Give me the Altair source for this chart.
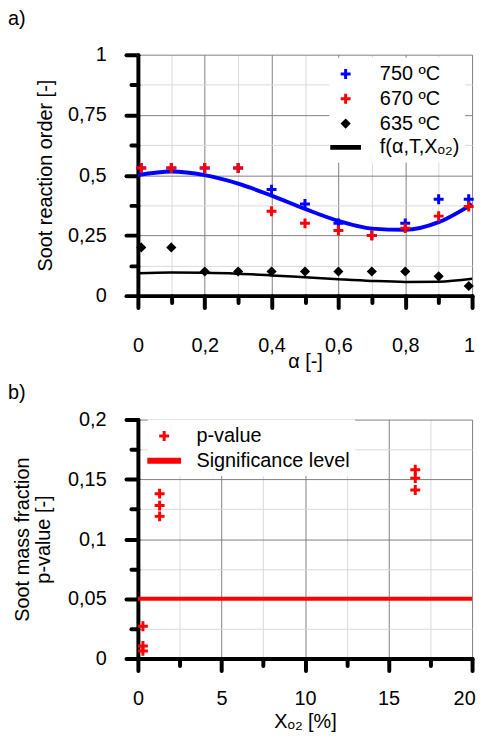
import altair as alt
import pandas as pd

FONT = "Liberation Sans"

# ---------------- panel a data ----------------
alpha = [0.01, 0.1, 0.2, 0.3, 0.4, 0.5, 0.6, 0.7, 0.8, 0.9, 0.99]
order_750 = [0.53, 0.53, 0.53, 0.53, 0.44, 0.38, 0.30, 0.25, 0.30, 0.40, 0.40]
order_670 = [0.53, 0.53, 0.53, 0.53, 0.35, 0.30, 0.27, 0.25, 0.28, 0.33, 0.37]
order_635 = [0.20, 0.20, 0.10, 0.10, 0.10, 0.10, 0.10, 0.10, 0.10, 0.08, 0.04]

fit_alpha = [0.0, 0.1, 0.2, 0.3, 0.4, 0.5, 0.6, 0.7, 0.8, 0.9, 1.0]
fit_high = [0.50, 0.515, 0.50, 0.465, 0.415, 0.36, 0.31, 0.278, 0.273, 0.305, 0.38]
fit_635 = [0.093, 0.096, 0.095, 0.091, 0.084, 0.076, 0.068, 0.061, 0.057, 0.058, 0.07]

labels_a = ["750 ºC", "670 ºC", "635 ºC", "f(α,T,Xₒ₂)"]
colors_a = ["#0000ff", "#ff0000", "#000000", "#000000"]

# ---------------- panel b data ----------------
x_o2 = [0.3, 0.3, 0.3, 1.3, 1.3, 1.3, 16.6, 16.6, 16.6]
p_value = [0.027, 0.0105, 0.0064, 0.138, 0.128, 0.119, 0.158, 0.151, 0.141]
significance = 0.05
x_o2_range = [0, 20]

labels_b = ["p-value", "Significance level"]
colors_b = ["#ff0000", "#ff0000"]

x_ticks_a = [0, 0.1, 0.2, 0.3, 0.4, 0.5, 0.6, 0.7, 0.8, 0.9, 1.0]
y_ticks_a = [0, 0.125, 0.25, 0.375, 0.5, 0.625, 0.75, 0.875, 1.0]
x_ticks_b = [0, 2.5, 5, 7.5, 10, 12.5, 15, 17.5, 20]
y_ticks_b = [0, 0.025, 0.05, 0.075, 0.1, 0.125, 0.15, 0.175, 0.2]

# ---------------- symbol shapes ----------------
PLUS = "M-0.5,0H0.5M0,-0.5V0.5"
DIAMOND = "M0,-0.3L0.3,0L0,0.3L-0.3,0Z M-0.1,0H0.1 M0,-0.1V0.1"
LINE_A = "M-1.55,-0.1H1.55M-1.55,0.1H1.55"
LINE_B = "M-1.7,-0.15H1.7M-1.7,0.15H1.7"

MAJOR = "#7f7f7f"
MINOR = "#d9d9d9"


def make_axis(values, minor_test, label_expr, title_padding, label_padding, end_test=None, end_shift=0):
    kw = {}
    if end_test is not None:
        kw["labelOffset"] = {"condition": {"test": end_test, "value": end_shift}, "value": 0}
    return alt.Axis(
        values=values,
        labelExpr=label_expr,
        labelPadding=label_padding,
        titlePadding=title_padding,
        gridColor={"condition": {"test": minor_test, "value": MINOR}, "value": MAJOR},
        tickSize={"condition": {"test": minor_test, "value": 7}, "value": 12},
        **kw,
    )


# ---------------- panel a ----------------
pts_a = pd.DataFrame({
    "alpha": alpha * 3,
    "order": order_750 + order_670 + order_635,
    "series": [labels_a[0]] * len(alpha) + [labels_a[1]] * len(alpha) + [labels_a[2]] * len(alpha),
})
fit_a = pd.DataFrame({"alpha": fit_alpha, "high": fit_high, "low": fit_635})

xa = alt.X(
    "alpha:Q",
    scale=alt.Scale(domain=[0, 1], nice=False, zero=False),
    title="α [-]",
    axis=make_axis(
        x_ticks_a,
        "round(datum.value*10)%2==1",
        "round(datum.value*10)%2==0 ? replace(format(datum.value,'.1~f'),'.',',') : ''",
        -4, 28, "datum.value==1", -3,
    ),
)
ya_axis = make_axis(
    y_ticks_a,
    "round(datum.value*8)%2==1",
    "round(datum.value*8)%2==0 ? replace(format(datum.value,'.2~f'),'.',',') : ''",
    12, 20,
)
ya_scale = alt.Scale(domain=[0, 1], nice=False, zero=False)

leg_a = alt.Legend(
    orient="none", legendX=193, legendY=3, title=None,
    fillColor="white", padding=5,
    labelFont=FONT, labelFontSize=20, labelColor="black", labelOffset=23,
    symbolSize=400, symbolStrokeWidth=3, rowPadding=2, labelLimit=300,
)

line_high = alt.Chart(fit_a).mark_line(color="#0000ff", strokeWidth=4, interpolate="monotone").encode(
    x=xa, y=alt.Y("high:Q", scale=ya_scale, axis=ya_axis, title="Soot reaction order [-]")
)
line_low = alt.Chart(fit_a).mark_line(color="black", strokeWidth=2.5, interpolate="monotone").encode(
    x=xa, y=alt.Y("low:Q", scale=ya_scale, axis=ya_axis, title="Soot reaction order [-]")
)
points_a = alt.Chart(pts_a).mark_point(filled=False, size=400, strokeWidth=3, opacity=1).encode(
    x=xa,
    y=alt.Y("order:Q", scale=ya_scale, axis=ya_axis, title="Soot reaction order [-]"),
    color=alt.Color("series:N", scale=alt.Scale(domain=labels_a, range=colors_a), legend=leg_a),
    shape=alt.Shape("series:N", scale=alt.Scale(domain=labels_a, range=[PLUS, PLUS, DIAMOND, LINE_A]), legend=leg_a),
)

panel_a = alt.layer(line_high, line_low, points_a).properties(
    width=337, height=243,
    title=alt.TitleParams("a)", anchor="start", frame="group", dx=-131, offset=16,
                          baseline="top", font=FONT, fontSize=20,
                          fontWeight="normal", color="black"),
)

# ---------------- panel b ----------------
pts_b = pd.DataFrame({"x": x_o2, "p": p_value, "series": [labels_b[0]] * len(x_o2)})
sig_b = pd.DataFrame({"x": x_o2_range, "p": [significance] * len(x_o2_range)})

xb = alt.X(
    "x:Q",
    scale=alt.Scale(domain=[0, 20], nice=False, zero=False),
    title="Xₒ₂ [%]",
    axis=make_axis(
        x_ticks_b,
        "round(datum.value*2)%2==1",
        "round(datum.value*2)%2==0 ? format(datum.value,'d') : ''",
        4, 18, "datum.value==20", -8,
    ),
)
yb = alt.Y(
    "p:Q",
    scale=alt.Scale(domain=[0, 0.2], nice=False, zero=False),
    title=["Soot mass fraction", "p-value [-]"],
    axis=make_axis(
        y_ticks_b,
        "round(datum.value*40)%2==1",
        "round(datum.value*40)%2==0 ? replace(format(datum.value,'.2~f'),'.',',') : ''",
        14, 20,
    ),
)

leg_b = alt.Legend(
    orient="none", legendX=10, legendY=0, title=None,
    fillColor="white", padding=5,
    labelFont=FONT, labelFontSize=20, labelColor="black", labelOffset=21,
    symbolSize=400, symbolStrokeWidth=3, rowPadding=2, labelLimit=300,
)
sig_line = alt.Chart(sig_b).mark_line(color="#ff0000", strokeWidth=4).encode(x=xb, y=yb)
points_b = alt.Chart(pts_b).mark_point(filled=False, size=400, strokeWidth=3, opacity=1).encode(
    x=xb, y=yb,
    color=alt.Color("series:N", scale=alt.Scale(domain=labels_b, range=colors_b), legend=leg_b),
    shape=alt.Shape("series:N", scale=alt.Scale(domain=labels_b, range=[PLUS, LINE_B]), legend=leg_b),
)

panel_b = alt.layer(sig_line, points_b).properties(
    width=337, height=241,
    title=alt.TitleParams("b)", anchor="start", frame="group", dx=-131, offset=7,
                          baseline="top", font=FONT, fontSize=20,
                          fontWeight="normal", color="black"),
)

chart = alt.vconcat(panel_a, panel_b, spacing=12).resolve_scale(
    color="independent", shape="independent"
).properties(
    padding={"left": 0, "top": -2, "right": 0, "bottom": -3},
).configure_view(stroke=None).configure_axis(
    titleLineHeight=21,
    labelOverlap=False,
    labelFlush=False,
    labelBound=False,
    labelFont=FONT,
    labelFontSize=20,
    labelColor="black",
    titleFont=FONT,
    titleFontSize=20,
    titleFontWeight="normal",
    titleColor="black",
    domain=True,
    domainColor="black",
    domainWidth=4,
    domainCap="round",
    ticks=True,
    tickColor="black",
    tickWidth=4,
    tickCap="round",
    grid=True,
    gridWidth=1,
)

chart.save("out.html", embed_options={"renderer": "svg", "actions": False})
